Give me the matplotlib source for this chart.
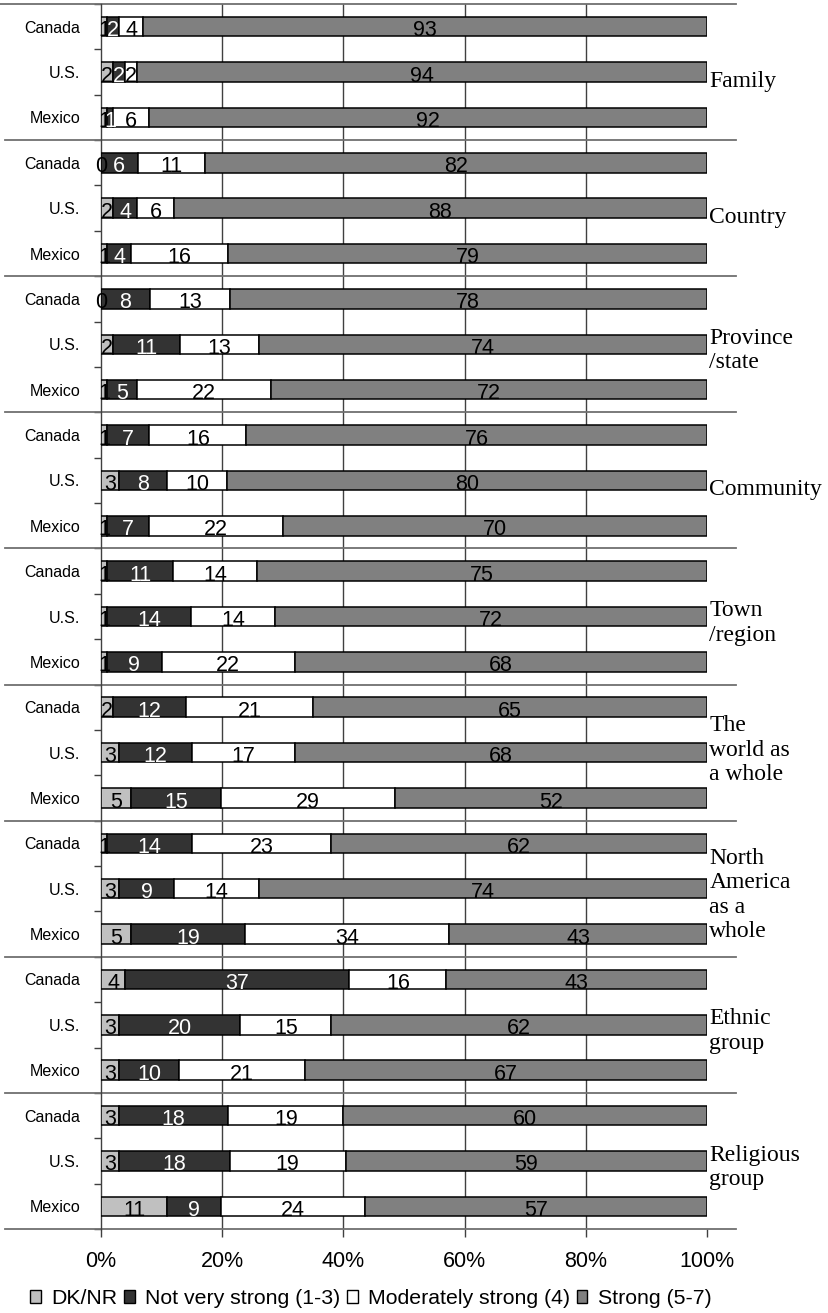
import numpy as np
import matplotlib
matplotlib.use("Agg")
import matplotlib.pyplot as plt
from matplotlib.patches import Patch
from matplotlib.transforms import blended_transform_factory

# ---- data ----
groups = ["Family", "Country", "Province\n/state", "Community", "Town\n/region",
          "The\nworld as\na whole", "North\nAmerica\nas a\nwhole", "Ethnic\ngroup",
          "Religious\ngroup"]
countries = ["Canada", "U.S.", "Mexico"]
series_names = ["DK/NR", "Not very strong (1-3)", "Moderately strong (4)", "Strong (5-7)"]
dk_nr = [1, 2, 1, 0, 2, 1, 0, 2, 1, 1, 3, 1, 1, 1, 1, 2, 3, 5, 1, 3, 5, 4, 3, 3, 3, 3, 11]
not_very = [2, 2, 1, 6, 4, 4, 8, 11, 5, 7, 8, 7, 11, 14, 9, 12, 12, 15, 14, 9, 19, 37, 20, 10, 18, 18, 9]
moderate = [4, 2, 6, 11, 6, 16, 13, 13, 22, 16, 10, 22, 14, 14, 22, 21, 17, 29, 23, 14, 34, 16, 15, 21, 19, 19, 24]
strong = [93, 94, 92, 82, 88, 79, 78, 74, 72, 76, 80, 70, 75, 72, 68, 65, 68, 52, 62, 74, 43, 43, 62, 67, 60, 59, 57]
x_ticks = [0, 20, 40, 60, 80, 100]
x_ticklabels = ["0%", "20%", "40%", "60%", "80%", "100%"]

colors = ["#c0c0c0", "#333333", "#ffffff", "#808080"]
text_colors = ["black", "white", "black", "black"]

SANS = "Liberation Sans"
SERIF = "Liberation Serif"

fig = plt.figure(figsize=(8.29, 13.13), dpi=100)
W, H = 829, 1313
ax = fig.add_axes([101 / W, (H - 1229) / H, 606 / W, 1225 / H])

vals = np.array([dk_nr, not_very, moderate, strong], dtype=float)
totals = vals.sum(axis=0)
pct = vals / totals * 100
n = vals.shape[1]
rows = np.arange(n)
bar_h = 0.43

left = np.zeros(n)
for k in range(4):
    ax.barh(rows, pct[k], left=left, height=bar_h, color=colors[k],
            edgecolor="black", linewidth=1.1, zorder=3)
    for i in range(n):
        ax.text(left[i] + pct[k][i] / 2, rows[i] + bar_h / 2 - 0.005,
                f"{int(vals[k][i])}", ha="center", va="baseline",
                color=text_colors[k], fontsize=15.5, family=SANS, zorder=4)
    left += pct[k]

ax.set_xlim(0, 100)
ax.set_ylim(n - 0.5, -0.5)

# x axis
ax.set_xticks(x_ticks)
ax.set_xticklabels(x_ticklabels, fontsize=15.5, family=SANS)
ax.tick_params(axis="x", length=6, width=1, color="#404040", pad=10)
ax.grid(axis="x", color="#404040", linewidth=1, zorder=1)
gl = ax.xaxis.get_gridlines()
gl[0].set_visible(False)
gl[-1].set_visible(False)

# y axis
ax.set_yticks(rows)
ax.set_yticklabels([countries[i % 3] for i in rows], fontsize=11.5, family=SANS)
ax.tick_params(axis="y", length=0, pad=15)
ax.set_yticks(np.arange(-0.5, n, 1.0), minor=True)
ax.tick_params(axis="y", which="minor", length=5, width=1, color="#404040")

for s in ["top", "right", "bottom"]:
    ax.spines[s].set_visible(False)
ax.spines["left"].set_color("#404040")
ax.spines["left"].set_linewidth(1)

# group separators
trans = blended_transform_factory(ax.transAxes, ax.transData)
for g in range(len(groups) + 1):
    y = g * 3 - 0.5
    x0 = -101 / 606 if g == 0 else -96 / 606
    ax.plot([x0, 635 / 606], [y, y], transform=trans, color="#707070",
            linewidth=1.3, clip_on=False, zorder=2)

# group labels (vertically centred near the U.S. row)
for g, name in enumerate(groups):
    nlines = name.count("\n") + 1
    dy = 0.2 if nlines == 1 else (-0.05 if nlines == 3 else 0.14)
    ax.text(1.004, g * 3 + 1 + dy, name, transform=trans, ha="left", va="center",
            fontsize=17, family=SERIF, linespacing=1.22, color="black")

handles = [Patch(facecolor=colors[k], edgecolor="black", linewidth=1) for k in range(4)]
fig.legend(handles, series_names, loc="center", bbox_to_anchor=(0.4475, 0.011),
           ncol=4, frameon=False, prop={"family": SANS, "size": 15.3},
           handlelength=0.5, handleheight=0.5, handletextpad=0.5, columnspacing=0.3,
           borderpad=0, borderaxespad=0)

fig.savefig("out.png", dpi=100)
